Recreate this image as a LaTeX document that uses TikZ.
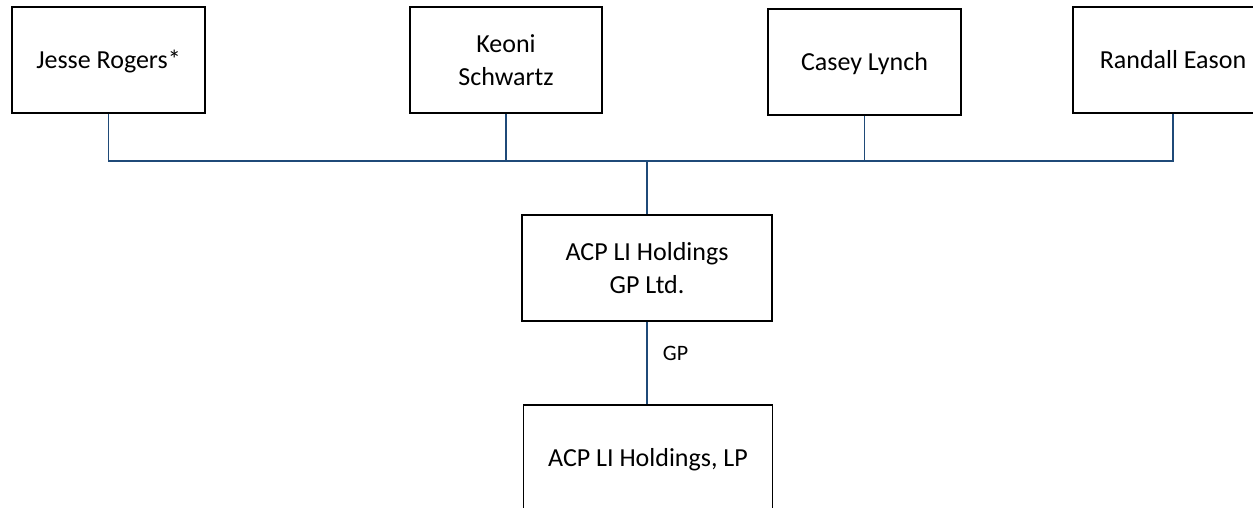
\documentclass[tikz,border=0pt]{standalone}
\usepackage{fontspec}
\setmainfont{Carlito}
\begin{document}
\begin{tikzpicture}[x=1pt,y=-1pt,
  box/.style={draw=black, line width=1.6pt, minimum height=106pt, inner sep=0pt, align=center, font=\fontsize{26}{33}\selectfont},
  oneline/.style={text height=16.5pt, text depth=0pt},
  conn/.style={draw=lineblue, line width=1.3pt},
  trunk/.style={draw=lineblue, line width=2.4pt}]
\definecolor{lineblue}{HTML}{1F4A78}
\useasboundingbox (0,0) rectangle (1253,508);
\node[box, oneline, minimum width=193pt] (jr) at (108.5,60) {Jesse Rogers*};
\node[box, minimum width=192pt] (ks) at (506,60) {Keoni\\Schwartz};
\node[box, oneline, minimum width=193pt] (cl) at (864.5,62) {Casey Lynch};
\node[box, oneline, minimum width=200pt] (re) at (1173,60) {Randall Eason};
\node[box, minimum width=250pt] (gp) at (647,268) {ACP LI Holdings\\GP Ltd.};
\node[box, oneline, minimum width=249pt] (lp) at (648,458) {ACP LI Holdings, LP};
\coordinate (busL) at (108.5,161);
\coordinate (busR) at (1173,161);
\coordinate (busM) at (647,161);
\draw[conn] (jr.south) -- (busL) -- (busR) -- (re.south);
\draw[conn] (ks.south) -- (ks.south |- busL);
\draw[conn] (cl.south) -- (cl.south |- busL);
\draw[trunk] (busM) -- (gp.north);
\draw[conn] (gp.south) -- (gp.south |- lp.north) node[pos=0.38, right=12pt, font=\fontsize{22}{26}\selectfont] (gplabel) {GP};
\end{tikzpicture}
\end{document}
